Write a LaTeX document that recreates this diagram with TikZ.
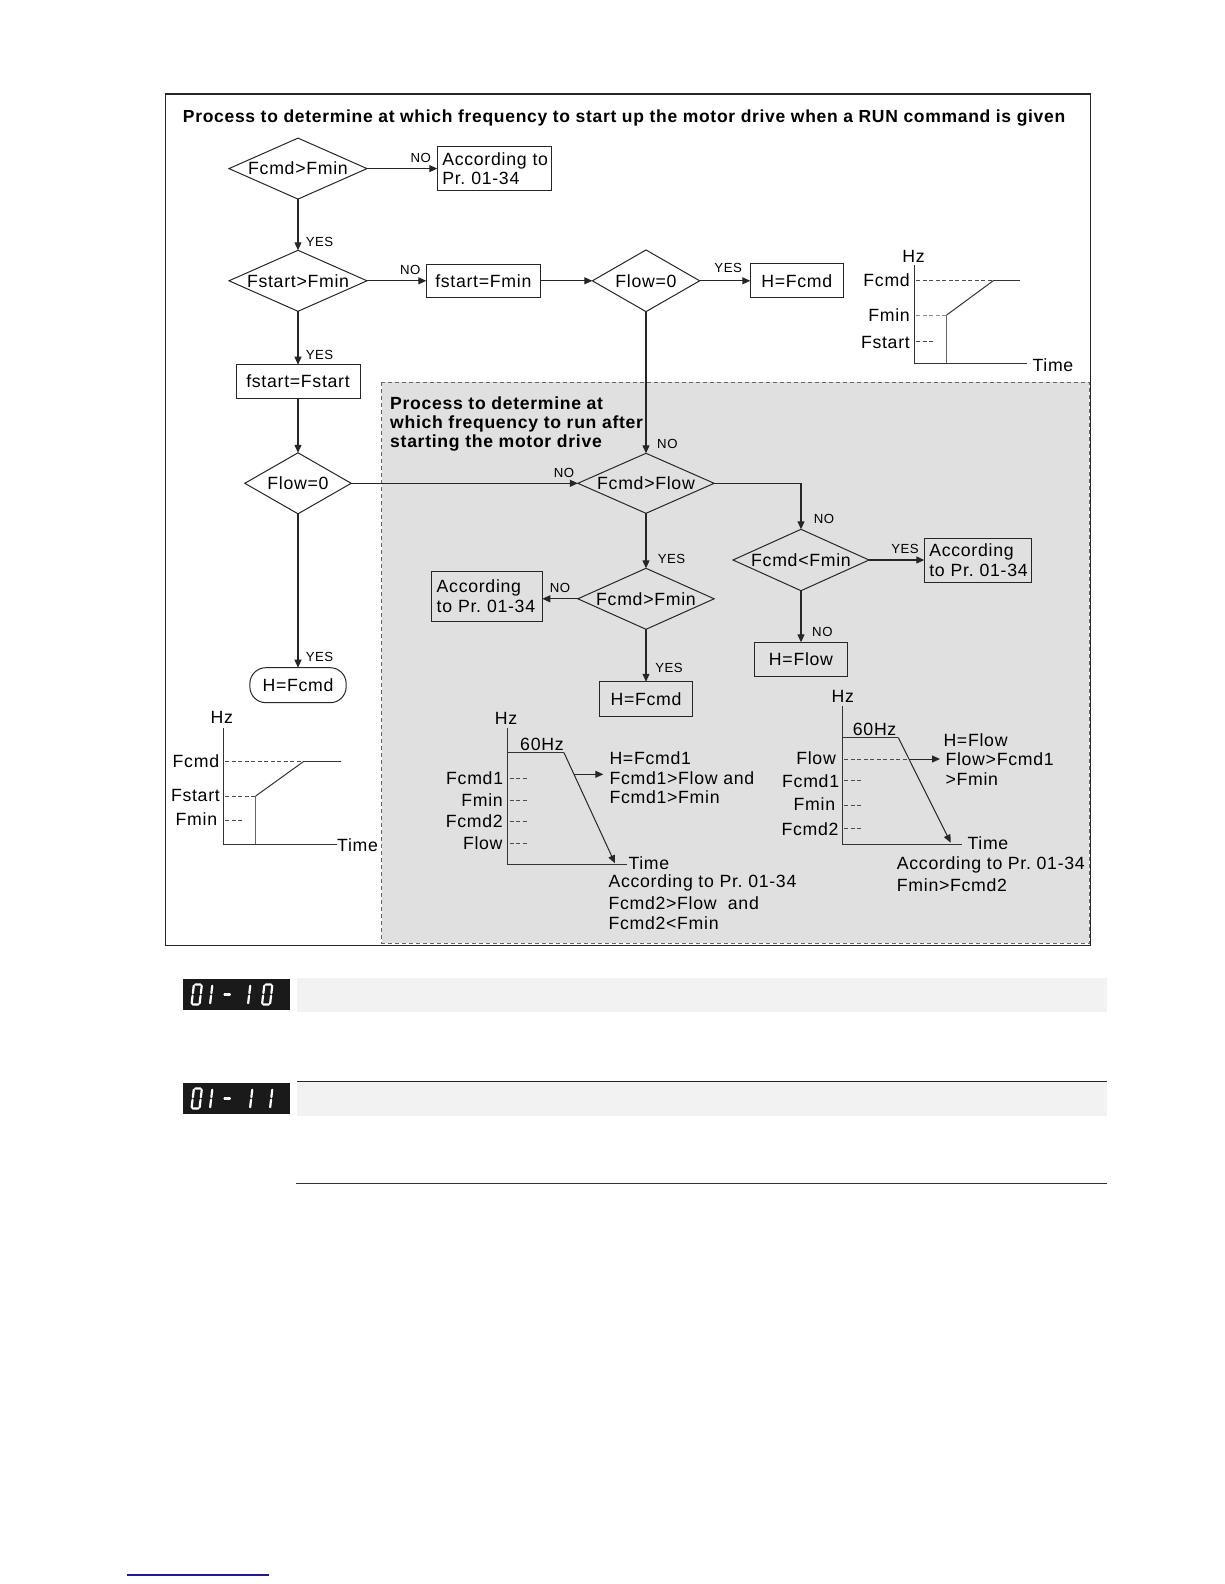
\documentclass[tikz,border=0pt]{standalone}
\usepackage{fontspec}
\setmainfont{Liberation Sans}[LetterSpace=4]
\usetikzlibrary{arrows.meta,shapes.geometric}
\definecolor{regiongray}{RGB}{224,224,224}
\definecolor{barfill}{RGB}{242,242,242}
\definecolor{linkblue}{RGB}{30,30,140}
\definecolor{ledblack}{RGB}{26,26,26}
\newcommand\dgfont{\fontsize{17.7}{19.7}\selectfont}
\newcommand\yesnofont{\fontsize{13.2}{15}\selectfont}
\newcommand\ttlfont{\fontsize{17.5}{19.2}\selectfont\bfseries}
\newcommand\subfont{\fontsize{17.6}{19.2}\selectfont\bfseries}
\newcommand\ledzero[2]{%
  \begin{scope}[shift={(#1,#2)},xslant=0.12]
    \draw[ledseg] (1.3,-20)--(6.7,-20) (8,-18.7)--(8,-11.3) (8,-8.7)--(8,-1.3)
      (1.3,0)--(6.7,0) (0,-8.7)--(0,-1.3) (0,-18.7)--(0,-11.3);
  \end{scope}}
\newcommand\ledone[2]{%
  \begin{scope}[shift={(#1,#2)},xslant=0.12]
    \draw[ledseg] (0,-8.7)--(0,-1.3) (0,-18.7)--(0,-11.3);
  \end{scope}}
\newcommand\leddash[2]{%
  \begin{scope}[shift={(#1,#2)},xslant=0.12]
    \draw[ledseg] (1.3,-10)--(6.7,-10);
  \end{scope}}
\begin{document}
\begin{tikzpicture}[x=1pt,y=-1pt,
  ln/.style={line width=1.1pt, draw=black!85},
  arr/.style={ln, -{Triangle[length=8pt,width=7pt]}},
  dia/.style={diamond, draw=black!85, line width=1pt, inner sep=0pt, outer sep=0pt, font=\dgfont},
  box/.style={rectangle, draw=black!85, line width=1pt, inner sep=0pt, outer sep=0pt, font=\dgfont},
  accbox/.style={box, align=left, inner xsep=5pt},
  lbl/.style={font=\yesnofont, inner sep=0pt},
  gtxt/.style={font=\dgfont, inner sep=0pt},
  gl/.style={line width=1pt, draw=black!80},
  gdash/.style={line width=0.9pt, draw=black!70, dash pattern=on 4pt off 2.5pt},
  ledseg/.style={line width=2.2pt, draw=white, line cap=round},
]
\useasboundingbox (0,0) rectangle (1224,1584);
\fill[white] (0,0) rectangle (1224,1584);

% frame and shaded region
\draw[line width=1.2pt, draw=black!85] (165.6,94) rectangle (1090.8,945.3);
\draw[fill=regiongray, draw=black!60, line width=0.9pt, dash pattern=on 4pt off 3pt] (381.7,382.3) rectangle (1089.3,943.3);

% titles
\node[anchor=base west, inner sep=0pt, font=\ttlfont] (title) at (182.7,122.3)
  {Process to determine at which frequency to start up the motor drive when a RUN command is given};
\node[anchor=base west, inner sep=0pt, font=\subfont] (sub1) at (390,409.3) {Process to determine at};
\node[anchor=base west, inner sep=0pt, font=\subfont] (sub2) at (390,428.5) {which frequency to run after};
\node[anchor=base west, inner sep=0pt, font=\subfont] (sub3) at (390,447.7) {starting the motor drive};

% nodes
\node[dia, minimum width=138pt, minimum height=61pt] (d1) at (298,168.6) {\makebox[0pt]{Fcmd>Fmin}};
\node[accbox, minimum height=44.3pt, text width=104pt] (acc1) at (494.3,168.6) {\mbox{According to}\\\mbox{Pr.\ 01-34}};
\node[dia, minimum width=138pt, minimum height=61pt] (d2) at (298,280.8) {\makebox[0pt]{Fstart>Fmin}};
\node[box, minimum width=114pt, minimum height=33.3pt] (fsfmin) at (483.3,280.8) {fstart=Fmin};
\node[dia, minimum width=107.3pt, minimum height=61.7pt] (flow0T) at (646,280.8) {\makebox[0pt]{Flow=0}};
\node[box, minimum width=93pt, minimum height=34pt] (hfcmd1) at (796.8,280.8) {H=Fcmd};
\node[box, minimum width=124pt, minimum height=33.6pt] (fsfs) at (298,381.5) {fstart=Fstart};
\node[dia, minimum width=106.4pt, minimum height=61pt] (flow0L) at (298,483.3) {\makebox[0pt]{Flow=0}};
\node[box, rounded corners=16pt, minimum width=96.3pt, minimum height=35pt] (hfcmdR) at (298,685.2) {H=Fcmd};
\node[dia, minimum width=136.3pt, minimum height=60pt] (fcf) at (646,483.3) {\makebox[0pt]{Fcmd>Flow}};
\node[dia, minimum width=136pt, minimum height=61.4pt] (fcm) at (801,560) {\makebox[0pt]{Fcmd<Fmin}};
\node[accbox, minimum height=44pt, text width=97.4pt] (acc3) at (978,560) {\mbox{According}\\\mbox{to Pr.\ 01-34}};
\node[box, minimum width=93pt, minimum height=33.7pt] (hflow) at (801,659.2) {H=Flow};
\node[dia, minimum width=136.3pt, minimum height=61pt] (fcfmin) at (646,598.8) {\makebox[0pt]{Fcmd>Fmin}};
\node[accbox, minimum height=49.3pt, text width=100.6pt] (acc2) at (487,596.4) {\mbox{According}\\\mbox{to Pr.\ 01-34}};
\node[box, minimum width=93pt, minimum height=34.3pt] (hfcmd2) at (646,698.9) {H=Fcmd};

% connectors
\draw[arr] (d1.east) -- (acc1.west);
\draw[arr] (d1.south) -- (d2.north);
\draw[arr] (d2.east) -- (fsfmin.west);
\draw[arr] (fsfmin.east) -- (flow0T.west);
\draw[arr] (flow0T.east) -- (hfcmd1.west);
\draw[arr] (d2.south) -- (fsfs.north);
\draw[arr] (fsfs.south) -- (flow0L.north);
\draw[arr] (flow0L.south) -- (hfcmdR.north);
\draw[arr] (flow0L.east) -- (fcf.west);
\draw[arr] (flow0T.south) -- (fcf.north);
\draw[arr] (fcf.east) -| (fcm.north);
\draw[arr] (fcm.east) -- (acc3.west);
\draw[arr] (fcm.south) -- (hflow.north);
\draw[arr] (fcf.south) -- (fcfmin.north);
\draw[arr] (fcfmin.west) -- (fcfmin.west -| acc2.east);
\draw[arr] (fcfmin.south) -- (hfcmd2.north);

% YES / NO labels
\node[lbl] (l1) at (420.7,157.7) {NO};
\node[lbl] (l2) at (319.5,242.2) {YES};
\node[lbl] (l3) at (410.3,270.2) {NO};
\node[lbl] (l4) at (319.5,354.7) {YES};
\node[lbl] (l5) at (728.2,268) {YES};
\node[lbl] (l6) at (667.4,444) {NO};
\node[lbl] (l7) at (564,472.7) {NO};
\node[lbl] (l8) at (824,519) {NO};
\node[lbl] (l9) at (905,548.7) {YES};
\node[lbl] (l10) at (822.4,632.3) {NO};
\node[lbl] (l11) at (671.5,559.2) {YES};
\node[lbl] (l12) at (560,588) {NO};
\node[lbl] (l13) at (669,668) {YES};
\node[lbl] (l14) at (319.5,657.2) {YES};

% graph 1 (top right)
\draw[gl] (914.3,265) -- (914.3,363.3) -- (1026.7,363.3);
\draw[gdash] (916,280.7) -- (993.3,280.7);
\draw[gl] (993.3,280.7) -- (1020,280.7);
\draw[gdash, draw=black!45] (916,315) -- (946.7,315);
\draw[gl, draw=black!60] (946.7,315) -- (946.7,363.3);
\draw[gl] (946.7,315) -- (993.3,280.7);
\draw[gdash] (916,341.3) -- (935,341.3);
\node[gtxt, anchor=base] (g1hz) at (913.5,262.3) {Hz};
\node[gtxt, anchor=base east] (g1a) at (910,286.7) {Fcmd};
\node[gtxt, anchor=base east] (g1b) at (910,321) {Fmin};
\node[gtxt, anchor=base east] (g1c) at (910,348) {Fstart};
\node[gtxt, anchor=base west] (g1t) at (1032.3,371) {Time};

% graph 2 (bottom left)
\draw[gl] (223.3,728.3) -- (223.3,844.3) -- (337,844.3);
\draw[gdash] (225,761.7) -- (303.3,761.7);
\draw[gl] (303.3,761.7) -- (341,761.7);
\draw[gdash] (225,796) -- (255.7,796);
\draw[gl, draw=black!60] (255.7,796) -- (255.7,844.3);
\draw[gl] (255.7,796) -- (303.3,761.7);
\draw[gdash] (225,820.7) -- (244,820.7);
\node[gtxt, anchor=base] (g2hz) at (221.7,723.3) {Hz};
\node[gtxt, anchor=base east] (g2a) at (219.3,767.3) {Fcmd};
\node[gtxt, anchor=base east] (g2b) at (220,801.7) {Fstart};
\node[gtxt, anchor=base east] (g2c) at (217.3,825) {Fmin};
\node[gtxt, anchor=base west] (g2t) at (337,851) {Time};

% graph 3 (bottom middle)
\draw[gl] (507.3,728.3) -- (507.3,864) -- (626.7,864);
\draw[gl] (507.3,752.7) -- (564,752.7);
\draw[arr, line width=1pt] (564,752.7) -- (615,863.3);
\draw[arr, line width=1pt] (574,774.3) -- (603.3,774.3);
\draw[gdash] (509.5,778.3) -- (528,778.3);
\draw[gdash] (509.5,800) -- (528,800);
\draw[gdash] (509.5,821) -- (528,821);
\draw[gdash] (509.5,843.3) -- (528,843.3);
\node[gtxt, anchor=base] (g3hz) at (506,724.6) {Hz};
\node[gtxt, anchor=base west] (g3hz60) at (520,750) {60Hz};
\node[gtxt, anchor=base east] (g3a) at (503.3,784.6) {Fcmd1};
\node[gtxt, anchor=base east] (g3b) at (503,806.3) {Fmin};
\node[gtxt, anchor=base east] (g3c) at (503,827.3) {Fcmd2};
\node[gtxt, anchor=base east] (g3d) at (502.7,849.6) {Flow};
\node[gtxt, anchor=base west] (g3r1) at (609.3,764) {H=Fcmd1};
\node[gtxt, anchor=base west] (g3r2) at (609.3,784) {Fcmd1>Flow and};
\node[gtxt, anchor=base west] (g3r3) at (609.3,803.3) {Fcmd1>Fmin};
\node[gtxt, anchor=base west] (g3t) at (628.3,869.3) {Time};
\node[gtxt, anchor=base west] (g3b1) at (608.3,887.7) {According to Pr.\ 01-34};
\node[gtxt, anchor=base west] (g3b2) at (608.3,909.3) {Fcmd2>Flow\ \ and};
\node[gtxt, anchor=base west] (g3b3) at (608.3,929.3) {Fcmd2<Fmin};

% graph 4 (bottom right)
\draw[gl] (842.3,706) -- (842.3,844) -- (961.7,844);
\draw[gl] (842.3,737.7) -- (898.3,737.7);
\draw[arr, line width=1pt] (898.3,737.7) -- (950.7,842.7);
\draw[gdash] (844,759) -- (908.9,759);
\draw[arr, line width=1pt] (908.9,759) -- (940,759);
\draw[gdash] (844,780) -- (863.3,780);
\draw[gdash] (844,805.7) -- (863.3,805.7);
\draw[gdash] (844,828.3) -- (863.3,828.3);
\node[gtxt, anchor=base] (g4hz) at (842.7,702.3) {Hz};
\node[gtxt, anchor=base west] (g4hz60) at (852.7,735) {60Hz};
\node[gtxt, anchor=base east] (g4a) at (836,764) {Flow};
\node[gtxt, anchor=base east] (g4b) at (839.3,787.3) {Fcmd1};
\node[gtxt, anchor=base east] (g4c) at (835.3,810.7) {Fmin};
\node[gtxt, anchor=base east] (g4d) at (838.7,835) {Fcmd2};
\node[gtxt, anchor=base west] (g4r1) at (943.3,746.7) {H=Flow};
\node[gtxt, anchor=base west] (g4r2) at (945.3,765.7) {Flow>Fcmd1};
\node[gtxt, anchor=base west] (g4r3) at (945.3,785) {>Fmin};
\node[gtxt, anchor=base west] (g4t) at (967.3,849.3) {Time};
\node[gtxt, anchor=base west] (g4b1) at (896.7,869) {According to Pr.\ 01-34};
\node[gtxt, anchor=base west] (g4b2) at (896.7,891.7) {Fmin>Fcmd2};

% parameter headers below
\fill[barfill] (297,977.5) rectangle (1106.5,1011.5);
\fill[ledblack] (183,979.3) rectangle (290,1009.8);
\ledzero{191.5}{1004.5}
\ledone{210}{1004.5}
\leddash{222}{1004.5}
\ledone{248}{1004.5}
\ledzero{262}{1004.5}

\fill[barfill] (297,1081.5) rectangle (1106.5,1115.5);
\draw[line width=1.2pt, draw=black!85] (297,1081.3) -- (1106.5,1081.3);
\fill[ledblack] (183,1083.4) rectangle (290,1113.8);
\ledzero{191.5}{1108.5}
\ledone{210}{1108.5}
\leddash{222}{1108.5}
\ledone{250}{1108.5}
\ledone{270}{1108.5}

\draw[line width=1.2pt, draw=black!80] (296,1183.3) -- (1106.5,1183.3);
\draw[line width=1.3pt, draw=linkblue] (126.7,1575) -- (269,1575);
\end{tikzpicture}
\end{document}
